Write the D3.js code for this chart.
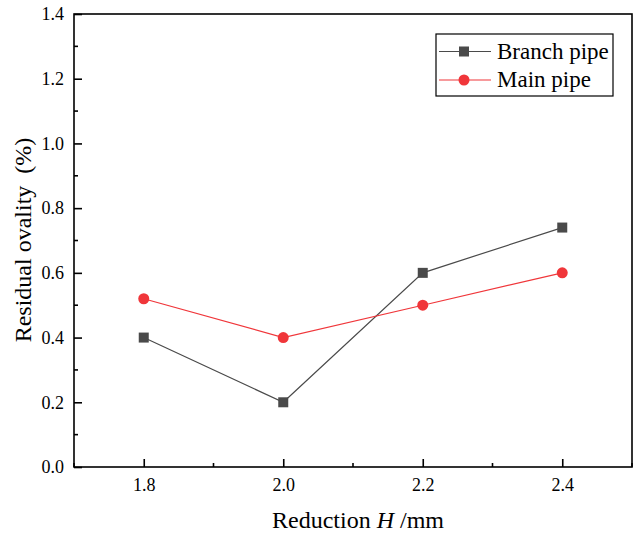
<!DOCTYPE html>
<html lang="en">
<head>
<meta charset="UTF-8">
<title>Residual ovality</title>
<script src="https://cdnjs.cloudflare.com/ajax/libs/d3/7.8.5/d3.min.js"></script>
<style>
  body { margin: 0; background: #fff; }
  svg { display: block; }
  svg text { font-family: "Liberation Serif", "Times New Roman", serif; }
</style>
</head>
<body>
<svg id="viz"></svg>
<script>
const reductions = [1.8, 2.0, 2.2, 2.4];
const branchPipe = [0.40, 0.20, 0.60, 0.74];
const mainPipe = [0.52, 0.40, 0.50, 0.60];
const xTicks = [1.8, 2.0, 2.2, 2.4];
const yTicks = [0, 0.2, 0.4, 0.6, 0.8, 1.0, 1.2, 1.4];

const width = 634, height = 534;
const plotL = 74, plotR = 632, plotT = 14, plotB = 467;
const serif = '"Liberation Serif", "Times New Roman", serif';

const svg = d3.select('#viz').attr('width', width).attr('height', height);

const x = d3.scaleLinear().domain([1.7, 2.5]).range([plotL, plotR]);
const y = d3.scaleLinear().domain([0, 1.4]).range([plotB, plotT]);

// frame
svg.append('rect')
  .attr('x', plotL).attr('y', plotT)
  .attr('width', plotR - plotL).attr('height', plotB - plotT)
  .attr('fill', 'none').attr('stroke', '#000').attr('stroke-width', 1.6);

// minor ticks
const xMinor = d3.range(1.7, 2.51, 0.1).filter(v => !xTicks.some(t => Math.abs(t - v) < 1e-6));
const yMinor = d3.range(0.1, 1.4, 0.2);

const xAxis = d3.axisBottom(x).tickValues(xTicks).tickFormat(d3.format('.1f')).tickSizeInner(-8).tickSizeOuter(0).tickPadding(11);
const gx = svg.append('g').attr('transform', `translate(0,${plotB})`).call(xAxis)
  .attr('font-family', serif).attr('font-size', 18);
gx.select('.domain').remove();
gx.selectAll('line').attr('stroke-width', 1.6);
gx.selectAll('text').attr('fill', '#000');

svg.append('g').selectAll('line').data(xMinor).join('line')
  .attr('x1', d => x(d)).attr('x2', d => x(d))
  .attr('y1', plotB).attr('y2', plotB - 4)
  .attr('stroke', '#000').attr('stroke-width', 1.6);

const yAxis = d3.axisLeft(y).tickValues(yTicks).tickFormat(d3.format('.1f')).tickSizeInner(-8).tickSizeOuter(0).tickPadding(10);
const gy = svg.append('g').attr('transform', `translate(${plotL},0)`).call(yAxis)
  .attr('font-family', serif).attr('font-size', 18);
gy.select('.domain').remove();
gy.selectAll('line').attr('stroke-width', 1.6);
gy.selectAll('text').attr('fill', '#000');

svg.append('g').selectAll('line').data(yMinor).join('line')
  .attr('x1', plotL).attr('x2', plotL + 4)
  .attr('y1', d => y(d)).attr('y2', d => y(d))
  .attr('stroke', '#000').attr('stroke-width', 1.6);

// axis titles
const xt = svg.append('text')
  .attr('x', 358).attr('y', 528)
  .attr('text-anchor', 'middle').attr('font-size', 24)
  .attr('xml:space', 'preserve');
xt.append('tspan').text('Reduction ');
xt.append('tspan').attr('font-style', 'italic').text('H');
xt.append('tspan').text(' /mm');

svg.append('text')
  .attr('transform', `translate(31,240) rotate(-90)`)
  .attr('text-anchor', 'middle').attr('font-size', 24)
  .attr('xml:space', 'preserve')
  .text('Residual ovality  (%)');

// series
const series = [
  { name: 'Branch pipe', values: branchPipe, color: '#4a4a4a', shape: 'square' },
  { name: 'Main pipe', values: mainPipe, color: '#f0363a', shape: 'circle' }
];

const line = d3.line().x((d, i) => x(reductions[i])).y(d => y(d));

function marker(g, shape, color) {
  if (shape === 'square') {
    g.append('rect').attr('x', -5).attr('y', -5).attr('width', 10).attr('height', 10).attr('fill', color);
  } else {
    g.append('circle').attr('r', 5.5).attr('fill', color);
  }
}

series.forEach(s => {
  svg.append('path').datum(s.values)
    .attr('d', line).attr('fill', 'none')
    .attr('stroke', s.color).attr('stroke-width', 1.2);
  s.values.forEach((v, i) => {
    const g = svg.append('g').attr('transform', `translate(${x(reductions[i])},${y(v)})`);
    marker(g, s.shape, s.color);
  });
});

// legend
const lg = svg.append('g');
lg.append('rect').attr('x', 436).attr('y', 34).attr('width', 177).attr('height', 62)
  .attr('fill', '#fff').attr('stroke', '#000').attr('stroke-width', 1.2);
series.forEach((s, i) => {
  const cy = 51.5 + i * 28.5;
  lg.append('line').attr('x1', 439).attr('x2', 491).attr('y1', cy).attr('y2', cy)
    .attr('stroke', s.color).attr('stroke-width', 1.2);
  const g = lg.append('g').attr('transform', `translate(464,${cy})`);
  marker(g, s.shape, s.color);
  lg.append('text').attr('x', 497).attr('y', cy + 7).attr('font-size', 23).text(s.name);
});
</script>
</body>
</html>
